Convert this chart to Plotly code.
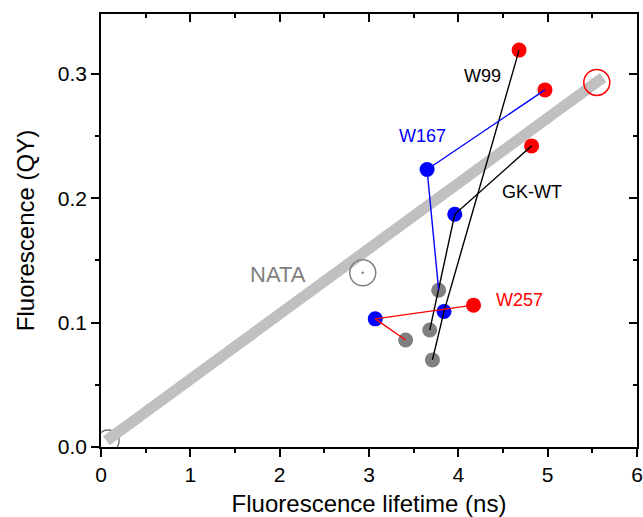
import plotly.graph_objects as go

# ---- data ----
groups = ["W99", "GK-WT", "W167", "W257"]
# points ordered: gray, blue, red
lifetime = {
    "W99":   [3.71, 3.84, 4.68],
    "GK-WT": [3.68, 3.96, 4.82],
    "W167":  [3.78, 3.65, 4.97],
    "W257":  [3.41, 3.07, 4.17],
}
qy = {
    "W99":   [0.070, 0.109, 0.319],
    "GK-WT": [0.094, 0.187, 0.242],
    "W167":  [0.126, 0.223, 0.287],
    "W257":  [0.086, 0.103, 0.114],
}
line_colors = {"W99": "#000000", "GK-WT": "#000000", "W167": "#0000ff", "W257": "#ff0000"}
point_colors = ["#808080", "#0000ff", "#ff0000"]

ref_line_x = [0.06, 5.62]
ref_line_y = [0.005, 0.297]
origin_pt = ([0.08], [0.005])
nata_pt = ([2.93], [0.140])
trp_pt = ([5.55], [0.293])

labels = [
    ("W99", 4.27, 0.298, "#000000", 18),
    ("W167", 3.60, 0.250, "#0000ff", 18),
    ("GK-WT", 4.83, 0.205, "#000000", 18),
    ("NATA", 1.98, 0.139, "#808080", 22),
    ("W257", 4.69, 0.118, "#ff0000", 18),
]

FONT = "Liberation Sans, Arial, sans-serif"

fig = go.Figure()

# origin open circle (under the reference line)
fig.add_trace(go.Scatter(x=origin_pt[0], y=origin_pt[1], mode="markers",
                         marker=dict(symbol="circle-open", size=22, color="#606060",
                                     line=dict(width=1.2, color="#606060")),
                         showlegend=False, cliponaxis=True))
# thick gray reference line
fig.add_trace(go.Scatter(x=ref_line_x, y=ref_line_y, mode="lines",
                         line=dict(color="#c0c0c0", width=11), showlegend=False))
# red open circle
fig.add_trace(go.Scatter(x=trp_pt[0], y=trp_pt[1], mode="markers",
                         marker=dict(symbol="circle-open", size=26, color="#ff0000",
                                     line=dict(width=1.5, color="#ff0000")),
                         showlegend=False))
# NATA open circle with dot
fig.add_trace(go.Scatter(x=nata_pt[0], y=nata_pt[1], mode="markers",
                         marker=dict(symbol="circle-open-dot", size=26, color="#808080",
                                     line=dict(width=1.5, color="#808080")),
                         showlegend=False))

# markers
for g in groups:
    fig.add_trace(go.Scatter(x=lifetime[g], y=qy[g], mode="markers",
                             marker=dict(size=15, color=point_colors, line=dict(width=0)),
                             showlegend=False))
# connecting lines on top
for g in groups:
    fig.add_trace(go.Scatter(x=lifetime[g], y=qy[g], mode="lines",
                             line=dict(color=line_colors[g], width=1.4),
                             showlegend=False))

# dummy for mirrored axes
fig.add_trace(go.Scatter(x=[None], y=[None], xaxis="x2", yaxis="y2", showlegend=False))

for text, x, y, c, s in labels:
    fig.add_annotation(x=x, y=y, text=text, showarrow=False,
                       font=dict(family=FONT, size=s, color=c),
                       xanchor="center", yanchor="middle")

XR = [0, 6]
YR = [0, 0.348]
common = dict(showline=True, linecolor="black", linewidth=1.5, showgrid=False,
              zeroline=False, tickcolor="black", tickwidth=1.5, automargin=False)

fig.update_layout(
    width=643, height=517,
    margin=dict(l=101, r=6, t=14, b=70),
    plot_bgcolor="white", paper_bgcolor="white",
    font=dict(family=FONT, color="black"),
    showlegend=False,
    xaxis=dict(range=XR, tickvals=[0, 1, 2, 3, 4, 5, 6], ticks="outside", ticklen=8,
               minor=dict(dtick=0.5, tick0=0, ticklen=4, ticks="outside", tickcolor="black", tickwidth=1.5),
               tickfont=dict(size=21),
               title=dict(text="Fluorescence lifetime (ns)", font=dict(size=24), standoff=22),
               **common),
    yaxis=dict(range=YR, tickvals=[0, 0.1, 0.2, 0.3], ticktext=["0.0", "0.1", "0.2", "0.3"],
               ticks="outside", ticklen=8,
               minor=dict(dtick=0.05, tick0=0, ticklen=4, ticks="outside", tickcolor="black", tickwidth=1.5),
               tickfont=dict(size=21),
               title=dict(text="Fluorescence (QY)", font=dict(size=24), standoff=16),
               **common),
    xaxis2=dict(range=XR, overlaying="x", side="top", anchor="y2", ticks="inside", ticklen=8,
                tickvals=[0, 1, 2, 3, 4, 5, 6], showticklabels=False,
                minor=dict(dtick=0.5, tick0=0, ticklen=4, ticks="inside", tickcolor="black", tickwidth=1.5),
                **common),
    yaxis2=dict(range=YR, overlaying="y", side="right", anchor="x2", ticks="inside", ticklen=8,
                tickvals=[0, 0.1, 0.2, 0.3], showticklabels=False,
                minor=dict(dtick=0.05, tick0=0, ticklen=4, ticks="inside", tickcolor="black", tickwidth=1.5),
                **common),
)

fig.write_html("out.html")
